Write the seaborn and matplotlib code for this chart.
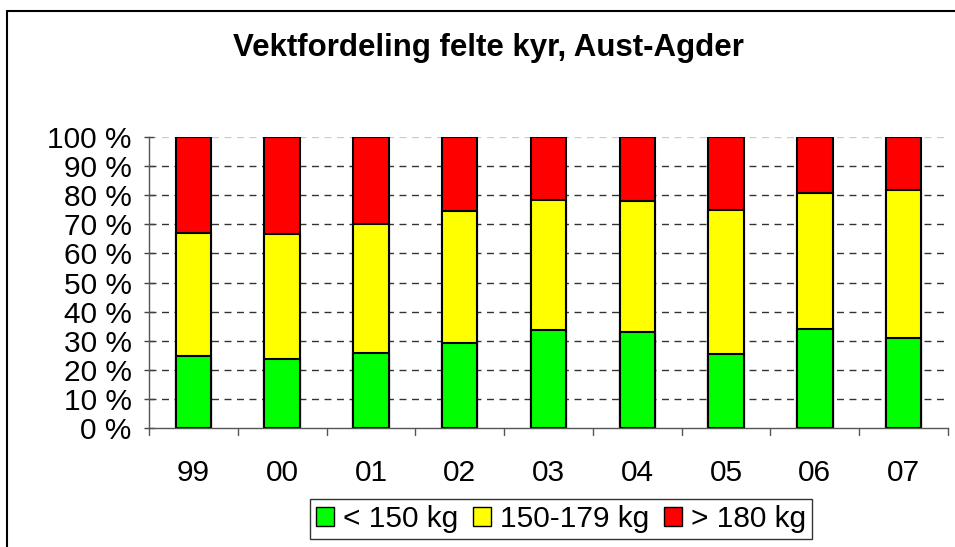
import matplotlib
matplotlib.use("Agg")
import matplotlib.pyplot as plt
from matplotlib.patches import Patch
from matplotlib.lines import Line2D
import seaborn as sns
import pandas as pd
import numpy as np

years = ["99", "00", "01", "02", "03", "04", "05", "06", "07"]
under_150 = [24.8, 23.9, 25.8, 29.4, 33.7, 32.9, 25.4, 33.9, 30.9]
mid_150_179 = [42.1, 42.8, 44.4, 45.2, 44.6, 44.9, 49.6, 46.9, 50.7]
over_180 = [33.1, 33.3, 29.8, 25.4, 21.7, 22.2, 25.0, 19.2, 18.4]
series_names = ["< 150 kg", "150-179 kg", "> 180 kg"]
colors = ["#00FF00", "#FFFF00", "#FF0000"]

sns.set_theme(style="white")
plt.rcParams["font.family"] = ["Liberation Sans", "DejaVu Sans"]
plt.rcParams["text.color"] = "black"
plt.rcParams["xtick.color"] = "black"
plt.rcParams["ytick.color"] = "black"

df = pd.DataFrame({"year": years, "g": under_150, "y": mid_150_179, "r": over_180})
df["cum_g"] = df["g"]
df["cum_y"] = df["g"] + df["y"]
df["cum_r"] = df["g"] + df["y"] + df["r"]

fig = plt.figure(figsize=(9.55, 5.47), dpi=100)
ax = fig.add_axes([149/955, 1-428.3/547, (948-149)/955, (428.3-136.7)/547])

for yv in range(10, 100, 10):
    ax.axhline(yv, color="#333333", lw=1.0, ls=(0, (5, 4)), zorder=0)
ax.axhline(100, color="#cccccc", lw=1.0, ls=(0, (5, 4)), zorder=0)

for col, c in [("cum_r", colors[2]), ("cum_y", colors[1]), ("cum_g", colors[0])]:
    sns.barplot(data=df, x="year", y=col, color=c, width=0.4, edgecolor="black",
                linewidth=1.5, saturation=1, ax=ax, zorder=2, errorbar=None)

ax.set_xlim(-0.5, len(years) - 0.5)
ax.set_ylim(0, 100)
ax.set_yticks(np.arange(0, 101, 10))
ax.set_yticklabels([f"{v} %" for v in range(0, 101, 10)], fontsize=21.5)
ax.set_xticks(range(len(years)))
ax.set_xticklabels(years, fontsize=21.5)
ax.set_xlabel("")
ax.set_ylabel("")
ax.tick_params(axis="x", length=0, pad=22, labelcolor="black")
ax.tick_params(axis="y", direction="inout", length=7, width=1, color="#444444", pad=9,
               left=True, labelcolor="black")
for b in np.arange(-0.5, len(years), 1.0):
    ax.plot([b, b], [0, -0.022], transform=ax.get_xaxis_transform(), color="#555555",
            lw=1, clip_on=False)
for s in ["top", "right"]:
    ax.spines[s].set_visible(False)
for s in ["left", "bottom"]:
    ax.spines[s].set_color("#555555")
    ax.spines[s].set_linewidth(1)

fig.text(488/955, 1-48/547, "Vektfordeling felte kyr, Aust-Agder", ha="center", va="center",
         fontsize=22.5, fontweight="bold", color="black")

handles = [Patch(facecolor=c, edgecolor="black", linewidth=1) for c in colors]
leg = fig.legend(handles, series_names, loc="center", bbox_to_anchor=(561/955, 1-519/547),
                 ncol=3, fontsize=21.5, frameon=True, fancybox=False, handlelength=0.6,
                 handleheight=0.6, handletextpad=0.3, columnspacing=0.5, borderpad=0.2,
                 borderaxespad=0)
leg.get_frame().set_edgecolor("black")
leg.get_frame().set_linewidth(1)
for t in leg.get_texts():
    t.set_color("black")

fig.add_artist(Line2D([7/955, 1], [1-11/547, 1-11/547], color="black", lw=1.5))
fig.add_artist(Line2D([7/955, 7/955], [0, 1-11/547], color="black", lw=1.5))

fig.savefig("out.png", dpi=100)
